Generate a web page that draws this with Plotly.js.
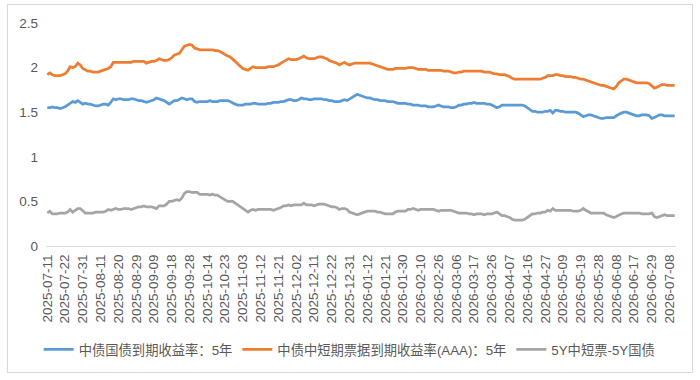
<!DOCTYPE html>
<html>
<head>
<meta charset="utf-8">
<script src="https://cdn.plot.ly/plotly-3.0.1.min.js"></script>
<style>
  html, body { margin: 0; padding: 0; background: #ffffff; }
  #wrap { position: relative; width: 700px; height: 380px; }
  #chart { position: absolute; left: 0; top: 0; width: 700px; height: 380px; }
  #frame { position: absolute; left: 7px; top: 4px; width: 684px; height: 367px;
           border: 1px solid #d9d9d9; pointer-events: none; }
</style>
</head>
<body>
<div id="wrap">
  <div id="chart"></div>
  <div id="frame"></div>
</div>
<script>
// Trading days (interbank bond market calendar)
const dates = [
  '2025-07-11','2025-07-14','2025-07-15','2025-07-16','2025-07-17','2025-07-18','2025-07-21',
  '2025-07-22','2025-07-23','2025-07-24','2025-07-25','2025-07-28','2025-07-29','2025-07-30',
  '2025-07-31','2025-08-01','2025-08-04','2025-08-05','2025-08-06','2025-08-07','2025-08-08',
  '2025-08-11','2025-08-12','2025-08-13','2025-08-14','2025-08-15','2025-08-18','2025-08-19',
  '2025-08-20','2025-08-21','2025-08-22','2025-08-25','2025-08-26','2025-08-27','2025-08-28',
  '2025-08-29','2025-09-01','2025-09-02','2025-09-03','2025-09-04','2025-09-05','2025-09-08',
  '2025-09-09','2025-09-10','2025-09-11','2025-09-12','2025-09-15','2025-09-16','2025-09-17',
  '2025-09-18','2025-09-19','2025-09-22','2025-09-23','2025-09-24','2025-09-25','2025-09-26',
  '2025-09-28','2025-09-29','2025-09-30','2025-10-09','2025-10-10','2025-10-11','2025-10-13',
  '2025-10-14','2025-10-15','2025-10-16','2025-10-17','2025-10-20','2025-10-21','2025-10-22',
  '2025-10-23','2025-10-24','2025-10-27','2025-10-28','2025-10-29','2025-10-30','2025-10-31',
  '2025-11-03','2025-11-04','2025-11-05','2025-11-06','2025-11-07','2025-11-10','2025-11-11',
  '2025-11-12','2025-11-13','2025-11-14','2025-11-17','2025-11-18','2025-11-19','2025-11-20',
  '2025-11-21','2025-11-24','2025-11-25','2025-11-26','2025-11-27','2025-11-28','2025-12-01',
  '2025-12-02','2025-12-03','2025-12-04','2025-12-05','2025-12-08','2025-12-09','2025-12-10',
  '2025-12-11','2025-12-12','2025-12-15','2025-12-16','2025-12-17','2025-12-18','2025-12-19',
  '2025-12-22','2025-12-23','2025-12-24','2025-12-25','2025-12-26','2025-12-29','2025-12-30',
  '2025-12-31','2026-01-04','2026-01-05','2026-01-06','2026-01-07','2026-01-08','2026-01-09',
  '2026-01-12','2026-01-13','2026-01-14','2026-01-15','2026-01-16','2026-01-19','2026-01-20',
  '2026-01-21','2026-01-22','2026-01-23','2026-01-26','2026-01-27','2026-01-28','2026-01-29',
  '2026-01-30','2026-02-02','2026-02-03','2026-02-04','2026-02-05','2026-02-06','2026-02-09',
  '2026-02-10','2026-02-11','2026-02-12','2026-02-13','2026-02-14','2026-02-24','2026-02-25',
  '2026-02-26','2026-02-27','2026-02-28','2026-03-02','2026-03-03','2026-03-04','2026-03-05',
  '2026-03-06','2026-03-09','2026-03-10','2026-03-11','2026-03-12','2026-03-13','2026-03-16',
  '2026-03-17','2026-03-18','2026-03-19','2026-03-20','2026-03-23','2026-03-24','2026-03-25',
  '2026-03-26','2026-03-27','2026-03-30','2026-03-31','2026-04-01','2026-04-02','2026-04-03',
  '2026-04-07','2026-04-08','2026-04-09','2026-04-10','2026-04-13','2026-04-14','2026-04-15',
  '2026-04-16','2026-04-17','2026-04-20','2026-04-21','2026-04-22','2026-04-23','2026-04-24',
  '2026-04-27','2026-04-28','2026-04-29','2026-04-30','2026-05-06','2026-05-07','2026-05-08',
  '2026-05-09','2026-05-11','2026-05-12','2026-05-13','2026-05-14','2026-05-15','2026-05-18',
  '2026-05-19','2026-05-20','2026-05-21','2026-05-22','2026-05-25','2026-05-26','2026-05-27',
  '2026-05-28','2026-05-29','2026-06-01','2026-06-02','2026-06-03','2026-06-04','2026-06-05',
  '2026-06-08','2026-06-09','2026-06-10','2026-06-11','2026-06-12','2026-06-15','2026-06-16',
  '2026-06-17','2026-06-18','2026-06-22','2026-06-23','2026-06-24','2026-06-25','2026-06-26',
  '2026-06-29','2026-06-30','2026-07-01','2026-07-02','2026-07-03','2026-07-06','2026-07-07',
  '2026-07-08','2026-07-09','2026-07-10'
];

// Dates printed along the x axis
const tickLabels = [
  '2025-07-11','2025-07-22','2025-07-31','2025-08-11','2025-08-20','2025-08-29',
  '2025-09-09','2025-09-18','2025-09-28','2025-10-14','2025-10-23','2025-11-03',
  '2025-11-12','2025-11-21','2025-12-02','2025-12-11','2025-12-22','2025-12-31',
  '2026-01-12','2026-01-21','2026-01-30','2026-02-10','2026-02-26','2026-03-06',
  '2026-03-17','2026-03-26','2026-04-07','2026-04-16','2026-04-27','2026-05-09',
  '2026-05-19','2026-05-28','2026-06-08','2026-06-17','2026-06-29','2026-07-08'
];

// 中债国债到期收益率：5年 (%)
const govt5y = [
  1.55,1.55,1.56,1.55,1.55,1.54,1.55,
  1.56,1.58,1.60,1.62,1.61,1.63,1.61,
  1.59,1.60,1.59,1.59,1.58,1.57,1.57,
  1.58,1.59,1.59,1.58,1.61,1.65,1.64,
  1.65,1.65,1.64,1.64,1.64,1.65,1.65,
  1.64,1.63,1.63,1.62,1.61,1.62,1.63,
  1.64,1.66,1.65,1.64,1.63,1.61,1.59,
  1.61,1.63,1.63,1.65,1.66,1.65,1.64,
  1.65,1.65,1.62,1.61,1.62,1.62,1.62,
  1.62,1.63,1.62,1.62,1.62,1.63,1.63,
  1.63,1.63,1.62,1.60,1.59,1.58,1.58,
  1.58,1.59,1.59,1.59,1.60,1.60,1.59,
  1.59,1.59,1.59,1.60,1.60,1.61,1.61,
  1.61,1.62,1.62,1.63,1.64,1.64,1.63,
  1.63,1.64,1.66,1.65,1.65,1.64,1.64,
  1.65,1.65,1.65,1.65,1.64,1.64,1.63,
  1.63,1.62,1.62,1.62,1.63,1.64,1.63,
  1.65,1.67,1.69,1.70,1.69,1.68,1.67,
  1.66,1.66,1.65,1.64,1.64,1.63,1.63,
  1.63,1.62,1.62,1.62,1.61,1.60,1.60,
  1.60,1.60,1.59,1.59,1.58,1.58,1.58,
  1.57,1.57,1.57,1.56,1.56,1.56,1.57,
  1.58,1.57,1.56,1.56,1.56,1.55,1.55,
  1.56,1.58,1.58,1.59,1.59,1.60,1.60,
  1.61,1.60,1.60,1.60,1.60,1.59,1.59,
  1.58,1.56,1.55,1.56,1.58,1.58,1.58,
  1.58,1.58,1.58,1.58,1.58,1.58,1.57,
  1.55,1.52,1.51,1.51,1.50,1.50,1.50,
  1.51,1.51,1.52,1.49,1.52,1.52,1.51,
  1.51,1.50,1.50,1.50,1.50,1.50,1.49,
  1.47,1.45,1.46,1.47,1.47,1.46,1.45,
  1.44,1.43,1.43,1.44,1.44,1.44,1.44,
  1.46,1.48,1.49,1.50,1.50,1.49,1.48,
  1.47,1.46,1.46,1.47,1.47,1.47,1.46,
  1.43,1.44,1.46,1.47,1.47,1.46,1.46,
  1.46,1.46,1.46
];

// 中债中短期票据到期收益率(AAA)：5年 (%)
const mtnAAA5y = [
  1.92,1.94,1.92,1.91,1.91,1.91,1.92,
  1.93,1.96,2.01,2.00,2.01,2.05,2.03,
  1.99,1.97,1.96,1.96,1.95,1.95,1.95,
  1.96,1.97,1.98,1.99,2.01,2.06,2.06,
  2.06,2.06,2.06,2.06,2.06,2.06,2.07,
  2.07,2.07,2.07,2.07,2.05,2.06,2.07,
  2.07,2.08,2.10,2.09,2.08,2.08,2.09,
  2.11,2.14,2.15,2.16,2.20,2.24,2.25,
  2.26,2.25,2.22,2.21,2.20,2.20,2.20,
  2.20,2.20,2.20,2.19,2.19,2.18,2.16,
  2.14,2.13,2.12,2.10,2.07,2.04,2.01,
  1.99,1.98,1.97,1.99,2.01,2.00,2.00,
  2.00,2.00,2.00,2.01,2.01,2.01,2.02,
  2.03,2.05,2.07,2.08,2.10,2.09,2.09,
  2.09,2.10,2.12,2.13,2.11,2.10,2.10,
  2.10,2.11,2.12,2.12,2.11,2.10,2.08,
  2.07,2.06,2.05,2.03,2.05,2.06,2.04,
  2.03,2.04,2.05,2.05,2.05,2.05,2.05,
  2.05,2.05,2.04,2.03,2.02,2.01,2.00,
  1.99,1.98,1.98,1.98,1.99,1.99,1.99,
  1.99,1.99,2.00,2.00,2.00,1.99,1.98,
  1.98,1.98,1.98,1.97,1.97,1.97,1.97,
  1.97,1.97,1.96,1.96,1.96,1.95,1.94,
  1.94,1.95,1.95,1.96,1.96,1.96,1.96,
  1.96,1.96,1.96,1.96,1.95,1.95,1.95,
  1.94,1.93,1.93,1.92,1.92,1.92,1.91,
  1.90,1.88,1.87,1.87,1.87,1.87,1.87,
  1.87,1.87,1.87,1.87,1.87,1.87,1.88,
  1.89,1.91,1.91,1.91,1.92,1.92,1.91,
  1.91,1.90,1.90,1.90,1.89,1.89,1.88,
  1.87,1.87,1.86,1.85,1.84,1.83,1.82,
  1.81,1.80,1.80,1.79,1.78,1.77,1.76,
  1.79,1.83,1.85,1.87,1.87,1.86,1.85,
  1.84,1.83,1.83,1.83,1.83,1.83,1.82,
  1.80,1.77,1.78,1.80,1.81,1.81,1.80,
  1.80,1.80,1.80
];

// 5Y中短票-5Y国债 (percentage points)
const spread5y = [
  0.37,0.39,0.36,0.36,0.36,0.37,0.37,
  0.37,0.38,0.41,0.38,0.40,0.42,0.42,
  0.40,0.37,0.37,0.37,0.37,0.38,0.38,
  0.38,0.38,0.39,0.41,0.40,0.41,0.42,
  0.41,0.41,0.42,0.42,0.42,0.41,0.42,
  0.43,0.44,0.44,0.45,0.44,0.44,0.44,
  0.43,0.42,0.45,0.45,0.45,0.47,0.50,
  0.50,0.51,0.52,0.51,0.54,0.59,0.61,
  0.61,0.60,0.60,0.60,0.58,0.58,0.58,
  0.58,0.57,0.58,0.57,0.57,0.55,0.53,
  0.51,0.50,0.50,0.50,0.48,0.46,0.43,
  0.41,0.39,0.38,0.40,0.41,0.40,0.41,
  0.41,0.41,0.41,0.41,0.41,0.40,0.41,
  0.42,0.43,0.45,0.45,0.46,0.45,0.46,
  0.46,0.46,0.46,0.48,0.46,0.46,0.46,
  0.45,0.46,0.47,0.47,0.47,0.46,0.45,
  0.44,0.44,0.43,0.41,0.42,0.42,0.41,
  0.38,0.37,0.36,0.35,0.36,0.37,0.38,
  0.39,0.39,0.39,0.39,0.38,0.38,0.37,
  0.36,0.36,0.36,0.36,0.38,0.39,0.39,
  0.39,0.39,0.41,0.41,0.42,0.41,0.40,
  0.41,0.41,0.41,0.41,0.41,0.41,0.40,
  0.39,0.40,0.40,0.40,0.40,0.40,0.39,
  0.38,0.37,0.37,0.37,0.37,0.36,0.36,
  0.35,0.36,0.36,0.36,0.35,0.36,0.36,
  0.36,0.37,0.38,0.36,0.34,0.34,0.33,
  0.32,0.30,0.29,0.29,0.29,0.29,0.30,
  0.32,0.35,0.36,0.36,0.37,0.37,0.38,
  0.38,0.40,0.39,0.42,0.40,0.40,0.40,
  0.40,0.40,0.40,0.40,0.39,0.39,0.39,
  0.40,0.42,0.40,0.38,0.37,0.37,0.37,
  0.37,0.37,0.37,0.35,0.34,0.33,0.32,
  0.33,0.35,0.36,0.37,0.37,0.37,0.37,
  0.37,0.37,0.37,0.36,0.36,0.36,0.36,
  0.37,0.33,0.32,0.33,0.34,0.35,0.34,
  0.34,0.34,0.34
];

const seriesNames = ['中债国债到期收益率：5年', '中债中短期票据到期收益率(AAA)：5年', '5Y中短票-5Y国债'];
const seriesColors = ['#5b9bd5', '#ed7d31', '#a5a5a5'];
const seriesValues = [govt5y, mtnAAA5y, spread5y];

const FONT = '"Liberation Sans", Arial, "Noto Sans CJK SC", sans-serif';

const traces = seriesValues.map((vals, k) => ({
  type: 'scatter',
  mode: 'lines',
  x: dates,
  y: vals,
  name: seriesNames[k],
  line: { color: seriesColors[k], width: 2.75 },
  hoverinfo: 'x+y+name'
}));

const layout = {
  width: 700,
  height: 380,
  paper_bgcolor: '#ffffff',
  plot_bgcolor: '#ffffff',
  margin: { l: 46, r: 24, t: 23, b: 134, pad: 0, autoexpand: false },
  font: { family: FONT, size: 13, color: '#595959' },
  showlegend: true,
  legend: {
    orientation: 'h',
    x: 0.482, xanchor: 'center',
    y: -0.465, yanchor: 'middle',
    font: { family: FONT, size: 13.3, color: '#595959' },
    itemwidth: 30,
    tracegroupgap: 0
  },
  xaxis: {
    type: 'category',
    range: [-0.5, dates.length - 0.5],
    tickmode: 'array',
    tickvals: tickLabels,
    ticktext: tickLabels,
    tickangle: -90,
    ticks: '',
    showgrid: false,
    zeroline: false,
    showline: true,
    linecolor: '#d9d9d9',
    linewidth: 1,
    ticklabelstandoff: 2,
    tickfont: { family: FONT, size: 13.5, color: '#595959' },
    fixedrange: true
  },
  yaxis: {
    range: [0, 2.5],
    tickmode: 'linear',
    tick0: 0,
    dtick: 0.5,
    ticks: '',
    showgrid: false,
    zeroline: false,
    showline: false,
    ticklabelstandoff: 7,
    tickfont: { family: FONT, size: 13.5, color: '#595959' },
    fixedrange: true
  }
};

Plotly.newPlot('chart', traces, layout, { staticPlot: true, displayModeBar: false });
</script>
</body>
</html>
